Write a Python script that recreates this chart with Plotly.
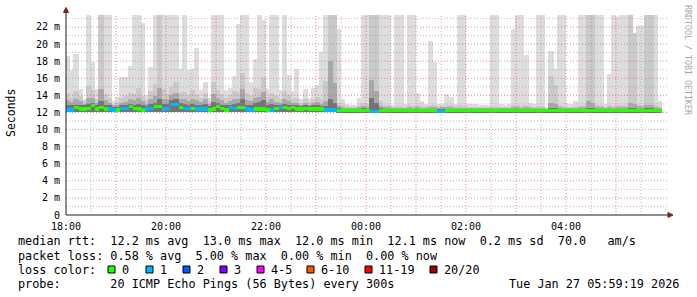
import plotly.graph_objects as go
import pandas as pd

# ---------------- data ----------------
start_time = "2026-01-26 18:00:00"
step_seconds = 300

rtt_max = [18.5, 16.9, 18.7, 14.6, 13.5, 24, 17.8, 14.6, 24, 24,
           24, 13.2, 13.7, 16.0, 16.0, 17.3, 24, 24, 22.3, 13.9,
           17.2, 24, 24, 24, 24, 24, 24, 17.0, 24, 16.9,
           17.0, 19.4, 14.5, 15.4, 13.6, 24, 24, 24, 14.5, 14.8,
           16.2, 22.2, 24, 24, 15.4, 18.1, 24, 22.7, 14.6, 24,
           24, 14.5, 24, 16.3, 14.4, 17.0, 13.4, 14.6, 13.6, 14.7,
           15.1, 19.0, 24, 24, 24, 21.7, 13.4, 12.9, 12.8, 12.8,
           13.6, 24, 24, 24, 24, 24, 24, 24, 12.8, 24,
           24, 12.9, 24, 24, 14.2, 13.2, 12.9, 20.2, 17.8, 12.9,
           12.9, 14.0, 13.7, 12.9, 24, 24, 12.9, 12.9, 12.9, 12.7,
           12.7, 12.7, 24, 24, 12.9, 12.7, 12.9, 21.7, 24, 24,
           18.6, 13.0, 12.9, 24, 24, 12.5, 19.1, 17.0, 24, 24,
           12.9, 12.9, 13.2, 24, 24, 24, 24, 24, 24, 12.9,
           16.4, 24, 23.0, 24, 24, 24, 21.2, 22.0, 22.0, 24,
           24, 24, 13.2]

rtt_p19 = [14.2, 13.6, 14.4, 13.8, 13.2, 15.0, 14.5, 13.5, 24, 14.0,
           13.6, 12.9, 13.1, 13.6, 13.8, 14.2, 14.0, 14.8, 13.8, 13.3,
           14.4, 15.2, 24, 14.6, 14.0, 14.9, 15.5, 14.1, 14.3, 13.9,
           14.5, 14.0, 13.6, 14.2, 13.2, 15.4, 14.5, 14.0, 13.6, 13.9,
           14.4, 14.3, 16.5, 14.2, 13.8, 14.7, 14.6, 16.0, 13.7, 14.2,
           13.8, 13.5, 14.4, 13.9, 13.5, 13.6, 13.0, 13.5, 13.1, 13.5,
           13.7, 13.4, 15.6, 24, 24, 13.0, 12.7, 12.6, 12.5, 12.5,
           12.8, 13.0, 12.9, 24, 24, 13.2, 12.8, 12.7, 12.5, 12.6,
           12.6, 12.5, 12.7, 12.6, 12.8, 12.6, 12.6, 12.8, 12.7, 12.6,
           12.6, 12.8, 12.7, 12.6, 12.7, 12.6, 12.5, 12.5, 12.5, 12.5,
           12.5, 12.5, 12.6, 12.6, 12.5, 12.5, 12.5, 12.7, 12.7, 12.6,
           12.8, 12.6, 12.5, 12.6, 12.6, 12.4, 16.2, 15.1, 12.7, 12.6,
           12.5, 12.5, 12.6, 12.7, 12.7, 24, 24, 12.8, 12.7, 12.5,
           12.7, 12.6, 12.8, 12.7, 12.7, 24, 21.2, 12.8, 12.8, 24,
           24, 12.7, 12.6]

rtt_p17 = [13.3, 13.1, 13.4, 13.2, 12.9, 13.6, 13.6, 13.0, 14.6, 13.3,
           13.0, 12.7, 12.8, 13.0, 13.1, 13.4, 13.3, 13.6, 13.2, 12.9,
           13.5, 13.8, 14.8, 13.5, 13.4, 13.9, 14.2, 13.5, 13.4, 13.2,
           13.5, 13.3, 13.1, 13.5, 12.9, 14.0, 13.6, 13.3, 13.0, 13.2,
           13.5, 13.5, 14.6, 13.3, 13.2, 13.6, 13.7, 14.3, 13.1, 13.4,
           13.1, 13.0, 13.4, 13.2, 13.0, 13.0, 12.8, 13.0, 12.8, 13.0,
           13.1, 12.9, 13.2, 17.9, 15.3, 12.6, 12.5, 12.4, 12.4, 12.4,
           12.5, 12.6, 12.5, 15.7, 14.4, 12.6, 12.5, 12.5, 12.4, 12.4,
           12.4, 12.4, 12.5, 12.4, 12.5, 12.4, 12.4, 12.5, 12.5, 12.4,
           12.5, 12.5, 12.5, 12.4, 12.4, 12.4, 12.4, 12.4, 12.4, 12.4,
           12.4, 12.4, 12.4, 12.4, 12.4, 12.4, 12.4, 12.5, 12.5, 12.4,
           12.5, 12.4, 12.4, 12.4, 12.4, 12.3, 13.0, 12.9, 12.5, 12.4,
           12.4, 12.4, 12.4, 12.5, 12.5, 13.2, 13.0, 12.5, 12.5, 12.4,
           12.5, 12.4, 12.5, 12.5, 12.5, 13.0, 12.9, 12.6, 12.5, 12.8,
           12.7, 12.5, 12.4]

rtt_p15 = [12.8, 12.7, 12.8, 12.8, 12.7, 12.9, 13.0, 12.7, 13.2, 12.8,
           12.7, 12.5, 12.5, 12.7, 12.7, 12.9, 12.8, 12.9, 12.7, 12.6,
           12.9, 13.0, 13.4, 12.9, 12.9, 13.3, 13.4, 13.0, 12.9, 12.8,
           12.9, 12.8, 12.7, 12.9, 12.6, 13.1, 13.0, 12.8, 12.7, 12.8,
           12.9, 13.0, 13.4, 12.8, 12.8, 13.0, 13.1, 13.3, 12.7, 12.9,
           12.7, 12.7, 12.9, 12.8, 12.7, 12.7, 12.6, 12.7, 12.6, 12.7,
           12.7, 12.6, 12.6, 13.4, 13.0, 12.4, 12.3, 12.3, 12.3, 12.3,
           12.3, 12.4, 12.3, 13.6, 13.0, 12.4, 12.3, 12.3, 12.3, 12.3,
           12.3, 12.3, 12.3, 12.3, 12.3, 12.3, 12.3, 12.3, 12.3, 12.3,
           12.3, 12.3, 12.3, 12.3, 12.3, 12.3, 12.3, 12.3, 12.3, 12.3,
           12.3, 12.3, 12.3, 12.3, 12.3, 12.3, 12.3, 12.3, 12.3, 12.3,
           12.3, 12.3, 12.3, 12.3, 12.3, 12.3, 12.4, 12.4, 12.3, 12.3,
           12.3, 12.3, 12.3, 12.3, 12.3, 12.4, 12.4, 12.3, 12.3, 12.3,
           12.3, 12.3, 12.3, 12.3, 12.3, 12.4, 12.4, 12.3, 12.3, 12.4,
           12.4, 12.3, 12.3]

rtt_min = [12.0, 12.0, 12.0, 12.0, 12.0, 12.0, 12.0, 12.0, 12.0, 12.0,
           12.0, 12.0, 12.0, 12.0, 12.0, 12.0, 12.0, 12.0, 12.0, 12.0,
           12.0, 12.0, 12.0, 12.0, 12.0, 12.0, 12.0, 12.0, 12.0, 12.0,
           12.0, 12.0, 12.0, 12.0, 12.0, 12.0, 12.0, 12.0, 12.0, 12.0,
           12.0, 12.0, 12.0, 12.0, 12.0, 12.0, 12.0, 12.0, 12.0, 12.0,
           12.0, 12.0, 12.0, 12.0, 12.0, 12.0, 12.0, 12.0, 12.0, 12.0,
           12.0, 12.0, 12.0, 12.0, 12.0, 11.95, 11.95, 11.95, 11.95, 11.95,
           11.95, 11.95, 11.95, 11.95, 11.95, 11.95, 11.95, 11.95, 11.95, 11.95,
           11.95, 11.95, 11.95, 11.95, 11.95, 11.95, 11.95, 11.95, 11.95, 11.95,
           11.95, 11.95, 11.95, 11.95, 11.95, 11.95, 11.95, 11.95, 11.95, 11.95,
           11.95, 11.95, 11.95, 11.95, 11.95, 11.95, 11.95, 11.95, 11.95, 11.95,
           11.95, 11.95, 11.95, 11.95, 11.95, 11.95, 11.95, 11.95, 11.95, 11.95,
           11.95, 11.95, 11.95, 11.95, 11.95, 11.95, 11.95, 11.95, 11.95, 11.95,
           11.95, 11.95, 11.95, 11.95, 11.95, 11.95, 11.95, 11.95, 11.95, 11.95,
           11.95, 11.95, 11.95]

median_rtt = [12.3, 12.3, 12.6, 12.4, 12.4, 12.5, 12.8, 12.4, 12.6, 12.4,
              12.4, 12.3, 12.3, 12.5, 12.5, 12.7, 12.5, 12.4, 12.3, 12.4,
              12.5, 12.7, 12.7, 12.4, 12.5, 12.9, 12.9, 12.6, 12.5, 12.5,
              12.5, 12.4, 12.4, 12.4, 12.3, 12.4, 12.7, 12.5, 12.3, 12.6,
              12.5, 12.6, 12.6, 12.4, 12.3, 12.4, 12.4, 12.4, 12.3, 12.3,
              12.5, 12.6, 12.6, 12.5, 12.6, 12.4, 12.4, 12.5, 12.4, 12.4,
              12.4, 12.4, 12.3, 12.3, 12.3, 12.2, 12.2, 12.2, 12.2, 12.2,
              12.2, 12.2, 12.2, 12.1, 12.1, 12.2, 12.2, 12.2, 12.2, 12.2,
              12.2, 12.2, 12.2, 12.2, 12.2, 12.2, 12.2, 12.2, 12.2, 12.1,
              12.1, 12.2, 12.2, 12.2, 12.2, 12.2, 12.2, 12.2, 12.2, 12.2,
              12.2, 12.2, 12.2, 12.2, 12.2, 12.2, 12.2, 12.2, 12.2, 12.2,
              12.2, 12.2, 12.2, 12.2, 12.2, 12.2, 12.2, 12.2, 12.2, 12.2,
              12.2, 12.2, 12.2, 12.2, 12.2, 12.2, 12.2, 12.2, 12.2, 12.2,
              12.2, 12.2, 12.2, 12.2, 12.2, 12.2, 12.2, 12.2, 12.2, 12.2,
              12.2, 12.2, 12.2]

loss_count = [1, 1, 0, 0, 0, 0, 0, 0, 0, 0,
              1, 1, 0, 1, 1, 0, 0, 0, 0, 1,
              1, 0, 0, 1, 1, 1, 1, 0, 1, 1,
              0, 1, 1, 1, 0, 0, 0, 0, 0, 1,
              1, 0, 0, 1, 1, 0, 0, 0, 0, 1,
              0, 1, 0, 0, 0, 0, 0, 0, 0, 0,
              0, 0, 1, 1, 1, 0, 0, 0, 0, 0,
              0, 0, 0, 1, 1, 0, 0, 0, 0, 0,
              0, 0, 0, 0, 0, 0, 0, 0, 0, 1,
              1, 0, 0, 0, 0, 0, 0, 0, 0, 0,
              0, 0, 0, 0, 0, 0, 0, 0, 0, 0,
              0, 0, 0, 0, 0, 0, 0, 0, 0, 0,
              0, 0, 0, 0, 0, 0, 0, 0, 0, 0,
              0, 0, 0, 0, 0, 0, 0, 0, 0, 0,
              0, 0, 0]

hour_ticks = ["2026-01-26 18:00", "2026-01-26 19:00", "2026-01-26 20:00", "2026-01-26 21:00",
              "2026-01-26 22:00", "2026-01-26 23:00", "2026-01-27 00:00", "2026-01-27 01:00",
              "2026-01-27 02:00", "2026-01-27 03:00", "2026-01-27 04:00", "2026-01-27 05:00"]
hour_labels = ["18:00", "", "20:00", "", "22:00", "", "00:00", "", "02:00", "", "04:00", ""]
half_hour_ticks = ["2026-01-26 18:30", "2026-01-26 19:30", "2026-01-26 20:30", "2026-01-26 21:30",
                   "2026-01-26 22:30", "2026-01-26 23:30", "2026-01-27 00:30", "2026-01-27 01:30",
                   "2026-01-27 02:30", "2026-01-27 03:30", "2026-01-27 04:30", "2026-01-27 05:30"]
y_major = [0, 2, 4, 6, 8, 10, 12, 14, 16, 18, 20, 22]
y_major_labels = ["0", "2 m", "4 m", "6 m", "8 m", "10 m", "12 m", "14 m", "16 m", "18 m", "20 m", "22 m"]
y_minor = [1, 3, 5, 7, 9, 11, 13, 15, 17, 19, 21, 23]

loss_legend = ["0", "1", "2", "3", "4-5", "6-10", "11-19", "20/20"]
loss_legend_colors = ["#26ff00", "#00b8ff", "#0059ff", "#7e00ff", "#ff00ff", "#ff5500", "#ff0000", "#a10000"]

line1 = "median rtt:  12.2 ms avg  13.0 ms max  12.0 ms min  12.1 ms now  0.2 ms sd  70.0   am/s"
line2 = "packet loss: 0.58 % avg  5.00 % max  0.00 % min  0.00 % now"
line3 = "loss color:"
line4 = "probe:       20 ICMP Echo Pings (56 Bytes) every 300s"
stamp = "Tue Jan 27 05:59:19 2026"
credit = "RRDTOOL / TOBI OETIKER"

# ---------------- geometry / style ----------------
W, H = 697, 297
L, R, T, B = 66, 30, 15, 82
PW, PH = W - L - R, H - T - B
FONT = "DejaVu Sans Mono"


def px(xp):
    return (xp - L) / PW


def py(yp):
    return (H - B - yp) / PH


t0 = pd.Timestamp(start_time)
step = pd.Timedelta(seconds=step_seconds)
n = len(rtt_max)
xc = [t0 + step * k + step / 2 for k in range(n)]
wms = step_seconds * 1000

fig = go.Figure()
bands = [(rtt_max, "#dddddd"), (rtt_p19, "#cacaca"), (rtt_p17, "#a8a8a8"), (rtt_p15, "#747474")]
for top, col in bands:
    fig.add_trace(go.Bar(
        x=xc, y=[t - b for t, b in zip(top, rtt_min)], base=rtt_min, width=wms,
        marker=dict(color=col, line=dict(color=col, width=1)),
        hoverinfo="skip", showlegend=False))

loss_color_map = {0: "#26ff00", 1: "#00b8ff", 2: "#0059ff", 3: "#7e00ff"}
thick = 0.38
fig.add_trace(go.Bar(
    x=xc, y=[thick] * n, base=[m - thick / 2 for m in median_rtt], width=wms,
    marker=dict(color=[loss_color_map[c] for c in loss_count], line=dict(width=0)),
    hoverinfo="skip", showlegend=False))

x_end = t0 + pd.Timedelta(hours=12) + pd.Timedelta(seconds=72)
shapes = []
MGRID = "rgba(222,80,80,0.65)"
GRID = "rgba(143,143,143,0.6)"
for t in hour_ticks[1:]:
    shapes.append(dict(type="line", xref="x", yref="paper", x0=t, x1=t, y0=0, y1=1,
                       line=dict(color=MGRID, width=1, dash="1px,2px"), layer="above"))
for t in half_hour_ticks:
    shapes.append(dict(type="line", xref="x", yref="paper", x0=t, x1=t, y0=0, y1=1,
                       line=dict(color=GRID, width=1, dash="1px,2px"), layer="above"))
for v in y_major[1:]:
    shapes.append(dict(type="line", xref="paper", yref="y", x0=0, x1=1, y0=v, y1=v,
                       line=dict(color=MGRID, width=1, dash="1px,2px"), layer="above"))
for v in y_minor:
    shapes.append(dict(type="line", xref="paper", yref="y", x0=0, x1=1, y0=v, y1=v,
                       line=dict(color=GRID, width=1, dash="1px,2px"), layer="above"))

AXIS = "#1f1f1f"
ARROW = "#7f1f1f"
shapes.append(dict(type="line", xref="paper", yref="paper", x0=px(66), x1=px(669), y0=py(215), y1=py(215),
                   line=dict(color=AXIS, width=1), layer="above"))
shapes.append(dict(type="line", xref="paper", yref="paper", x0=px(66), x1=px(66), y0=py(215), y1=py(11),
                   line=dict(color=AXIS, width=1), layer="above"))
shapes.append(dict(type="path", xref="paper", yref="paper",
                   path=f"M {px(668)},{py(212.5)} L {px(673)},{py(215)} L {px(668)},{py(217.5)} Z",
                   fillcolor=ARROW, line=dict(color=ARROW, width=1), layer="above"))
shapes.append(dict(type="path", xref="paper", yref="paper",
                   path=f"M {px(63.5)},{py(12.5)} L {px(66)},{py(7.5)} L {px(68.5)},{py(12.5)} Z",
                   fillcolor=ARROW, line=dict(color=ARROW, width=1), layer="above"))

ann = []


def text(s, x, y, size=11.8, xanchor="left", color="#000000", angle=0):
    ann.append(dict(text=s.replace(" ", "\u00a0"), x=px(x), y=py(y), xref="paper", yref="paper",
                    xanchor=xanchor, yanchor="middle", showarrow=False, textangle=angle,
                    font=dict(family=FONT, size=size, color=color)))


text(line1, 16, 241)
text(line2, 16, 255.5)
text(line3, 16, 269.5)
text(line4, 16, 283.5)
text(stamp, 681, 283.5, xanchor="right")
text("Seconds", 11, 113, size=11.5, xanchor="center", angle=-90)
text(credit, 688, 60, size=8.3, xanchor="center", color="#a8a8a8", angle=90)

box_x = [108, 146, 183, 220, 257, 307, 365, 430]
for bx, lab, col in zip(box_x, loss_legend, loss_legend_colors):
    shapes.append(dict(type="rect", xref="paper", yref="paper",
                       x0=px(bx), x1=px(bx + 7), y0=py(273), y1=py(266),
                       fillcolor=col, line=dict(color="#000000", width=1), layer="above"))
    text(lab, bx + 12, 269.5)

fig.update_layout(
    width=W, height=H, margin=dict(l=L, r=R, t=T, b=B, pad=0),
    paper_bgcolor="white", plot_bgcolor="white",
    barmode="overlay", bargap=0, showlegend=False,
    shapes=shapes, annotations=ann,
    font=dict(family=FONT, size=10, color="#000000"),
    xaxis=dict(type="date", range=[t0, x_end], tickmode="array",
               tickvals=hour_ticks, ticktext=hour_labels,
               showgrid=False, zeroline=False, showline=False,
               ticks="", ticklabelstandoff=4,
               tickfont=dict(family=FONT, size=10, color="#000000"),
               fixedrange=True),
    yaxis=dict(range=[0, 23.4], tickmode="array", tickvals=y_major, ticktext=y_major_labels,
               showgrid=False, zeroline=False, showline=False, ticks="",
               ticklabelstandoff=5,
               tickfont=dict(family=FONT, size=10, color="#000000"),
               fixedrange=True),
)

fig.write_html("out.html")
